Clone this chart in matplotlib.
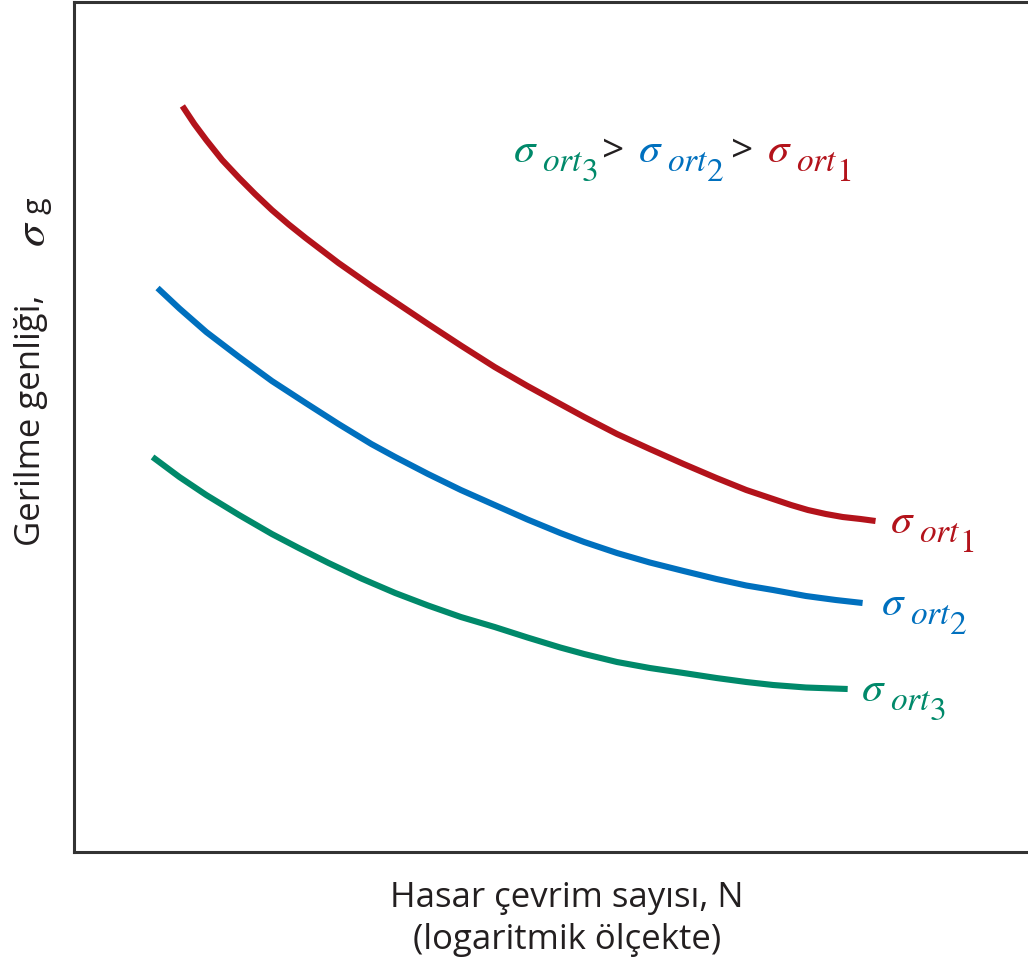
import matplotlib
matplotlib.use("Agg")
import matplotlib.pyplot as plt

plt.rcParams['font.family'] = ['Open Sans', 'DejaVu Sans']
plt.rcParams['mathtext.fontset'] = 'stix'

# Position along log(N) axis (arbitrary units) and stress amplitude (arbitrary units)
x_ort1 = [109, 121, 133, 149, 166, 182, 199, 216, 233, 266, 299, 323, 356, 389, 423, 456, 489, 513, 546,
          579, 613, 646, 676, 703, 721, 738, 756, 773, 791, 806]
y_ort1 = [746, 728, 712, 692, 674, 658, 642, 627.5, 614, 589, 566, 550, 528, 506.5, 485, 466, 448, 435, 418,
          403, 388, 374, 362, 353, 347, 342, 338, 335, 333, 331]

x_ort2 = [84, 106, 133, 166, 199, 233, 266, 299, 323, 356, 389, 423, 456, 489, 513, 546, 579, 613, 646, 676,
          703, 736, 766, 793]
y_ort2 = [564, 543.5, 520, 495, 471, 449, 428, 408, 395, 378, 362, 347, 332.5, 319, 310, 299, 289.5, 281, 273,
          266.5, 262, 256, 252, 249]

x_ort3 = [79, 106, 133, 166, 199, 226, 256, 289, 323, 356, 389, 423, 456, 489, 513, 546, 579, 613, 646, 676,
          703, 736, 778]
y_ort3 = [395, 375, 357, 337, 318, 304, 289, 273.5, 259, 246.5, 235, 225, 214.5, 204.5, 198, 190, 184, 179,
          174, 170, 167, 164.5, 163]

series_digits = ['1', '2', '3']
colors = ['#B3131B', '#0070BE', '#00896A']
text_dark = '#231f20'

W, H = 1028, 967
fig = plt.figure(figsize=(W/100, H/100), dpi=100)
ax = fig.add_axes([74/W, 1 - 852/H, 1 - 74/W + 0.02, (852 - 2)/H])
ax.set_xlim(0, 980)
ax.set_ylim(0, 850)

for xs, ys, c in zip([x_ort1, x_ort2, x_ort3], [y_ort1, y_ort2, y_ort3], colors):
    ax.plot(xs, ys, color=c, lw=4.4, solid_capstyle='butt', solid_joinstyle='round')

for sp in ['left', 'bottom', 'top']:
    ax.spines[sp].set_linewidth(2.2)
    ax.spines[sp].set_color('#333333')
ax.spines['right'].set_visible(False)
ax.set_xticks([])
ax.set_yticks([])


def sigma_ort(px, py, digit, color):
    """sigma with 'ort' subscript and digit sub-subscript; px,py = sigma left/baseline in pixels"""
    fig.text(px/W, 1 - py/H, r'$\sigma$', color=color, fontsize=31, ha='left', va='baseline')
    fig.text((px + 29)/W, 1 - (py + 9)/H, r'$ort$', color=color, fontsize=24, ha='left', va='baseline')
    fig.text((px + 69)/W, 1 - (py + 19)/H, digit, color=color, fontsize=24, ha='left', va='baseline',
             family='STIXGeneral')


# curve-end labels
label_px = [(890, 533), (881, 615), (861, 701)]
for (px, py), d, c in zip(label_px, series_digits, colors):
    sigma_ort(px, py, d, c)

# relation text at top
sigma_ort(513, 162, '3', colors[2])
fig.text(602/W, 1 - 162/H, '>', color=text_dark, fontsize=28, ha='left', va='baseline')
sigma_ort(638, 162, '2', colors[1])
fig.text(731/W, 1 - 162/H, '>', color=text_dark, fontsize=28, ha='left', va='baseline')
sigma_ort(767, 162, '1', colors[0])

fig.text(567/W, 1 - 898/H, 'Hasar çevrim sayısı, N', fontsize=25, ha='center', va='center', color=text_dark)
fig.text(567/W, 1 - 940/H, '(logaritmik ölçekte)', fontsize=25, ha='center', va='center', color=text_dark)
fig.text(31/W, 1 - 546/H, 'Gerilme genliği,', fontsize=25, rotation=90,
         ha='center', va='bottom', color=text_dark)
fig.text(33/W, 1 - 247/H, r'$\sigma$', fontsize=33, rotation=90,
         ha='center', va='bottom', color=text_dark)
fig.text(37/W, 1 - 214/H, 'g', fontsize=22, rotation=90,
         ha='center', va='bottom', color=text_dark)

fig.savefig('out.png', dpi=100)
